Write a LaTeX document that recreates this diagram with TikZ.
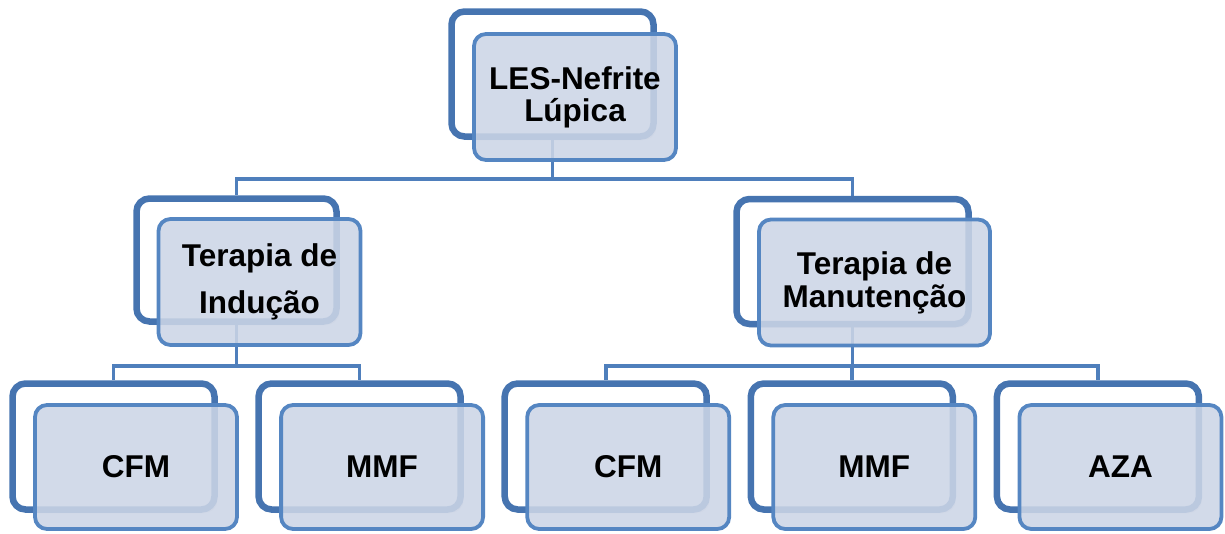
\documentclass[tikz,border=0pt]{standalone}
\usepackage{fontspec}
\setmainfont{Liberation Sans}
\usetikzlibrary{positioning, shadows, backgrounds, calc}
\definecolor{framebl}{RGB}{70,116,176}
\definecolor{edgebl}{RGB}{85,134,194}
\definecolor{fillbl}{RGB}{204,213,230}
\definecolor{linkbl}{RGB}{79,127,188}

\begin{document}
\begin{tikzpicture}
        [
            x=1pt, y=-1pt,
            backbox/.style={rectangle, draw=framebl, line width=6.5pt, fill=white,
                            rounded corners=13pt, minimum width=202pt,
                            minimum height=125pt, inner sep=0pt,
                            drop shadow={shadow xshift=3pt, shadow yshift=-3.5pt, opacity=0.18}},
            frontbox/.style={rectangle, draw=edgebl, line width=3.8pt, fill=fillbl,
                             fill opacity=0.88, text opacity=1, rounded corners=12pt,
                             minimum width=202pt, minimum height=126pt, inner sep=0pt,
                             align=center, font=\fontsize{31.5}{33}\selectfont\bfseries},
            link/.style={draw=linkbl, line width=3.6pt}
        ]
        \useasboundingbox (0,0) rectangle (1225,533);
        % root
        \node (les-b) [backbox] at (552.5, 74) {};
        \node (les) [frontbox] at ([shift={(22.5,23)}]les-b.center) {LES-Nefrite\\[-1pt]Lúpica};
        % second level
        \node (ind-b) [backbox, minimum width=200pt, minimum height=123pt] at (236.5, 260) {};
        \node (ind) [frontbox] at ([shift={(23,22)}]ind-b.center) {Terapia de\\[14pt]Indução};
        \node (man-b) [backbox, minimum width=232pt] at (852.5, 261.5) {};
        \node (man) [frontbox, minimum width=231pt] at ([shift={(22,21)}]man-b.center) {Terapia de\\Manutenção};
        % drugs
        \foreach \n/\t [count = \i from 0] in {c1/CFM, m1/MMF, c2/CFM, m2/MMF, a2/AZA}{
            \node (\n-b) [backbox, minimum height=126pt] at (113.5+246.1*\i, 446.5) {};
            \node (\n) [frontbox, minimum height=124pt] at ([shift={(22.5,20.5)}]\n-b.center) {\t};
        }
        \coordinate (bus0) at (0,179);
        \coordinate (bus1) at (0,366);
        \begin{scope}[on background layer]
            \draw [link] (les-b.south) -- (les-b.south |- bus0) -| (ind-b.north);
            \draw [link] (les-b.south |- bus0) -| (man-b.north);
            \foreach \n in {c1, m1}
                \draw [link] (ind-b.south) -- (ind-b.south |- bus1) -| (\n-b.north);
            \foreach \n in {c2, m2, a2}
                \draw [link] (man-b.south) -- (man-b.south |- bus1) -| (\n-b.north);
        \end{scope}
    \end{tikzpicture}
\end{document}
